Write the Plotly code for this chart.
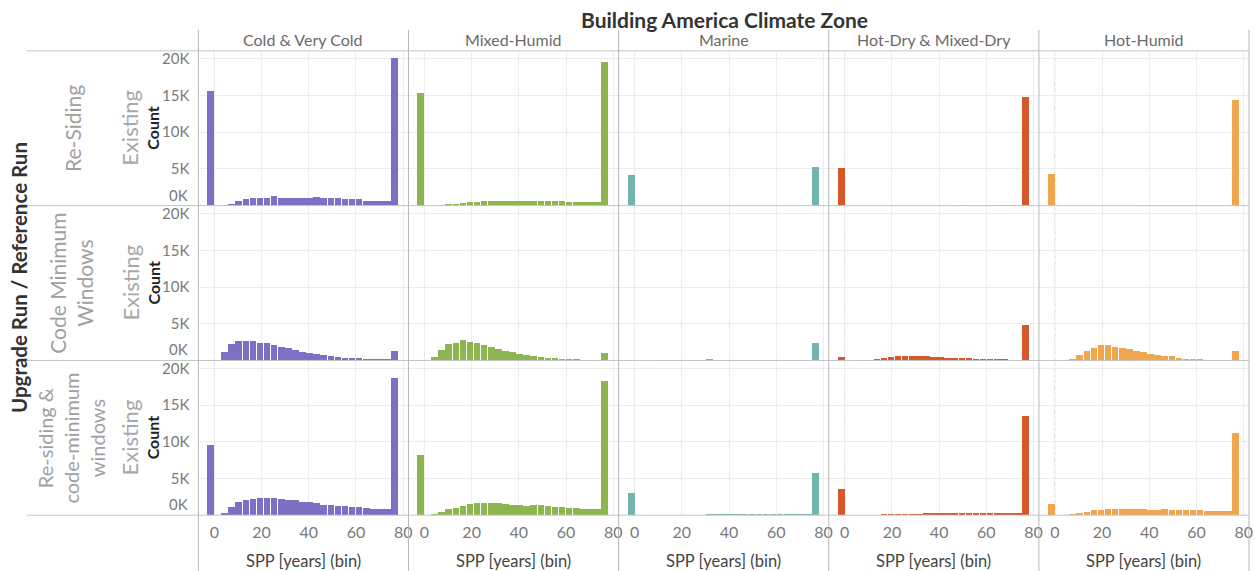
import plotly.graph_objects as go

# SPP histogram bins (bin start, years); bins are 3 years wide
bin_start = [-3, 0, 3, 6, 9, 12, 15, 18, 21, 24, 27, 30, 33, 36, 39, 42, 45, 48,
             51, 54, 57, 60, 63, 66, 69, 72, 75]

zones = ["Cold & Very Cold", "Mixed-Humid", "Marine", "Hot-Dry & Mixed-Dry", "Hot-Humid"]
zone_colors = ["#7b70c4", "#8db650", "#72b5b0", "#d4582a", "#f0a64c"]
upgrades = ["Re-Siding", "Code Minimum<br>Windows", "Re-siding &<br>code-minimum<br>windows"]

# Counts per bin — upgrade: Re-Siding
cold_residing = [15700, 0, 100, 300, 600, 860, 1000, 1100, 1100, 1300, 1100, 1100, 1100, 1100,
                 1000, 1150, 1000, 1000, 1000, 860, 860, 860, 700, 700, 600, 600, 20100]
mixed_residing = [15400, 0, 0, 50, 200, 200, 350, 500, 500, 650, 650, 650, 650, 650,
                  650, 650, 650, 650, 650, 650, 650, 450, 450, 450, 450, 450, 19600]
marine_residing = [4200, 0, 0, 0, 0, 0, 0, 0, 0, 0, 0, 0, 0, 0,
                   0, 0, 0, 0, 0, 0, 0, 0, 0, 0, 0, 0, 5300]
hotdry_residing = [5200, 0, 0, 0, 0, 0, 0, 0, 0, 0, 0, 0, 0, 0,
                   0, 0, 0, 50, 50, 0, 80, 80, 80, 80, 80, 80, 14800]
hothumid_residing = [4300, 0, 0, 0, 0, 0, 0, 0, 0, 0, 0, 0, 0, 100,
                     100, 100, 100, 100, 100, 100, 100, 100, 100, 100, 100, 100, 14400]

# Counts per bin — upgrade: Code Minimum Windows
cold_windows = [50, 0, 1270, 2360, 2700, 2700, 2700, 2500, 2500, 2200, 1900, 1700, 1450, 1270,
                1100, 900, 800, 730, 550, 450, 450, 360, 270, 270, 270, 200, 1360]
mixed_windows = [30, 0, 550, 1500, 2360, 2500, 2800, 2600, 2500, 2200, 1900, 1640, 1360, 1180,
                 900, 820, 680, 550, 450, 450, 320, 320, 320, 50, 50, 50, 1050]
marine_windows = [50, 0, 0, 0, 30, 50, 30, 30, 30, 30, 30, 200, 30, 30,
                  30, 30, 30, 30, 30, 30, 30, 30, 30, 30, 30, 30, 2500]
hotdry_windows = [550, 0, 0, 50, 50, 180, 360, 550, 680, 680, 680, 680, 680, 550,
                  550, 450, 360, 360, 360, 230, 230, 230, 230, 230, 0, 0, 4900]
hothumid_windows = [0, 0, 0, 270, 820, 1360, 1800, 2100, 2100, 1900, 1800, 1600, 1360, 1180,
                    900, 820, 600, 600, 360, 270, 270, 230, 50, 50, 50, 50, 1360]

# Counts per bin — upgrade: Re-siding & code-minimum windows
cold_both = [9500, 0, 270, 1050, 1720, 2000, 2180, 2300, 2300, 2300, 2180, 2000, 2000, 1720,
             1720, 1550, 1360, 1360, 1180, 1180, 1050, 1050, 950, 820, 730, 730, 18600]
mixed_both = [8100, 0, 100, 360, 730, 950, 1180, 1410, 1550, 1550, 1550, 1550, 1500, 1360,
              1300, 1180, 1360, 1300, 1180, 1100, 1100, 950, 950, 820, 820, 820, 18200]
marine_both = [3000, 0, 0, 0, 0, 0, 0, 0, 0, 0, 0, 50, 50, 50,
               50, 50, 50, 50, 50, 50, 50, 50, 50, 50, 50, 50, 5700]
hotdry_both = [3450, 0, 0, 0, 0, 0, 50, 50, 50, 50, 50, 50, 230, 230,
               230, 230, 230, 230, 230, 230, 230, 230, 230, 230, 230, 230, 13500]
hothumid_both = [1500, 0, 0, 50, 200, 360, 640, 640, 820, 820, 820, 820, 820, 820,
                 640, 640, 820, 640, 640, 640, 640, 640, 500, 500, 500, 500, 11100]

rows = [
    [cold_residing, mixed_residing, marine_residing, hotdry_residing, hothumid_residing],
    [cold_windows, mixed_windows, marine_windows, hotdry_windows, hothumid_windows],
    [cold_both, mixed_both, marine_both, hotdry_both, hothumid_both],
]

y_ticks = [5000, 10000, 15000, 20000]
y_ticktext = ["5K", "10K", "15K", "20K"]
x_ticks = [0, 20, 40, 60, 80]

# Page geometry (pixels)
W, H = 1255, 571
COL_LEFT, COL_W = 199, 210.8
ROW_EDGES = [49, 204.3, 359.7, 515]
FONT = "Lato"
GRID = "#ededed"
SEP = "#c4c4c4"


def px(x):
    return x / W


def py(y):
    return 1 - y / H


fig = go.Figure()
layout = {}
shapes = []
annotations = []

for r, row in enumerate(rows):
    for c, vals in enumerate(row):
        n = r * 5 + c + 1
        xname = "x" if n == 1 else f"x{n}"
        yname = "y" if n == 1 else f"y{n}"
        fig.add_trace(go.Bar(
            x=bin_start, y=vals, width=2.8, offset=0.1,
            marker=dict(color=zone_colors[c], line=dict(width=0)),
            xaxis=xname, yaxis=yname, showlegend=False,
            hovertemplate="SPP bin %{x}<br>Count %{y}<extra></extra>",
        ))
        left = COL_LEFT + c * COL_W
        layout["xaxis" if n == 1 else f"xaxis{n}"] = dict(
            domain=[px(left), px(left + COL_W)],
            anchor=yname, range=[-6.75, 82.25],
            tickvals=x_ticks, showticklabels=(r == 2),
            showgrid=True, gridcolor=GRID, gridwidth=1, zeroline=False, showline=False,
            ticks="", ticklabelstandoff=6,
            tickfont=dict(family=FONT, size=16, color="#7a7a7a"),
            fixedrange=True,
        )
        layout["yaxis" if n == 1 else f"yaxis{n}"] = dict(
            domain=[py(ROW_EDGES[r + 1]), py(ROW_EDGES[r])],
            anchor=xname, range=[0, 21100],
            tickvals=y_ticks, ticktext=y_ticktext, showticklabels=(c == 0),
            showgrid=True, gridcolor=GRID, gridwidth=1, zeroline=False, showline=False,
            ticks="", ticklabelstandoff=8,
            tickfont=dict(family=FONT, size=15, color="#7a7a7a"),
            fixedrange=True,
        )
        # dotted zero reference line
        shapes.append(dict(type="line", xref=xname, yref=f"{yname} domain",
                           x0=0, x1=0, y0=0, y1=1,
                           line=dict(color="#c8c8c8", width=1, dash="dot"), layer="below"))

# row separators / baselines
for yy in ROW_EDGES:
    shapes.append(dict(type="line", xref="paper", yref="paper",
                       x0=px(27), x1=px(1253), y0=py(yy), y1=py(yy),
                       line=dict(color=SEP, width=1)))
# column separators
for c in range(6):
    xx = COL_LEFT + c * COL_W
    shapes.append(dict(type="line", xref="paper", yref="paper",
                       x0=px(xx), x1=px(xx), y0=py(28), y1=py(571),
                       line=dict(color="#b8b8b8", width=1)))


def note(text, x, y, size, color, angle=0, xanchor="center", yanchor="middle", bold=False):
    annotations.append(dict(
        text=f"<b>{text}</b>" if bold else text,
        x=px(x), y=py(y), xref="paper", yref="paper",
        xanchor=xanchor, yanchor=yanchor, showarrow=False, textangle=angle,
        font=dict(family=FONT, size=size, color=color),
    ))


note("Building America Climate Zone", 727, 18, 21, "#333333", bold=True)
for c, z in enumerate(zones):
    note(z, COL_LEFT + (c + 0.5) * COL_W, 38, 16, "#6a6a6a")
    note("SPP [years] (bin)", COL_LEFT + (c + 0.5) * COL_W, 561, 16.5, "#444444")

note("Upgrade Run / Reference Run", 19, 276, 20.5, "#333333", angle=-90, bold=True)
label_x = [72, 71, 71]
label_size = [21, 21, 20]
for r, lab in enumerate(upgrades):
    cy = (ROW_EDGES[r] + ROW_EDGES[r + 1]) / 2
    note(lab, label_x[r], cy, label_size[r], "#a0a0a0", angle=-90)
    note("Existing", 130, cy, 22, "#a8a8a8", angle=-90)
    note("Count", 153, cy, 16, "#222222", angle=-90, bold=True)
    note("0K", 191, ROW_EDGES[r + 1] - 11, 15, "#7a7a7a", xanchor="right")

fig.update_layout(
    width=W, height=H,
    margin=dict(l=0, r=0, t=0, b=0),
    paper_bgcolor="white", plot_bgcolor="white",
    bargap=0, shapes=shapes, annotations=annotations,
    **layout,
)

fig.write_html("out.html")
